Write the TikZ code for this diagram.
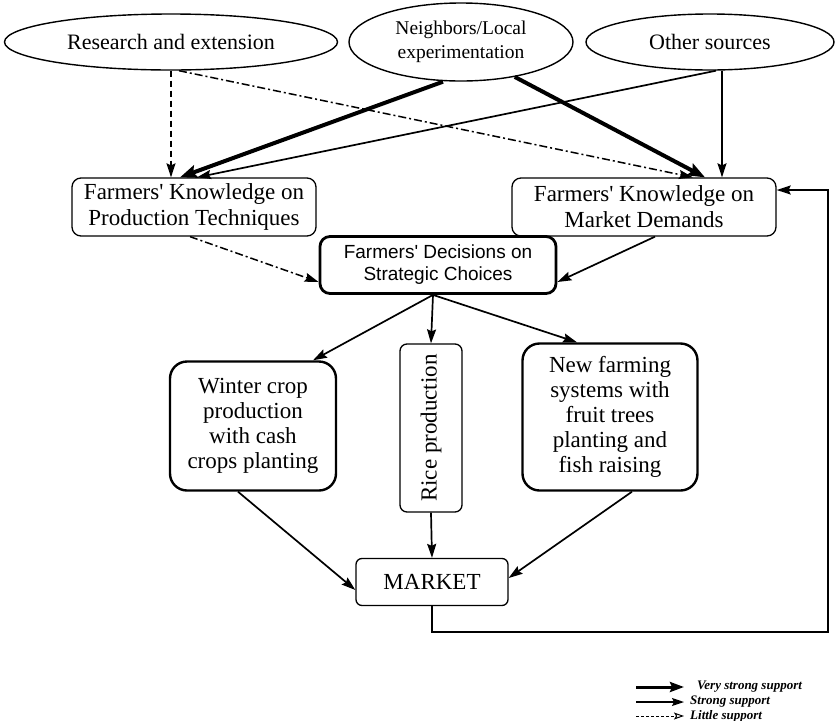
\documentclass[tikz,border=0pt]{standalone}
\usepackage{fontspec}
\setmainfont{Liberation Serif}
\newfontfamily\arialfont{Liberation Sans}
\usetikzlibrary{arrows.meta,shapes.geometric,calc}

\tikzset{
  srcnode/.style={ellipse, draw, line width=1.4pt, inner sep=0pt, align=center,
    font=\fontsize{22}{25}\selectfont},
  knowbox/.style={rectangle, draw, rounded corners=9pt, line width=1.3pt, align=center,
    inner sep=0pt, font=\fontsize{23}{26}\selectfont},
  decbox/.style={rectangle, draw, rounded corners=10pt, line width=2.8pt, align=center,
    inner sep=0pt, font=\arialfont\fontsize{19}{22}\selectfont},
  cropbox/.style={rectangle, draw, rounded corners=17pt, line width=2.4pt, align=center,
    inner sep=0pt, font=\fontsize{23}{25}\selectfont},
  thinbox/.style={rectangle, draw, rounded corners=7pt, line width=1.3pt, align=center,
    inner sep=0pt, font=\fontsize{23}{26}\selectfont},
  legendtext/.style={anchor=west, inner sep=0pt, font=\fontsize{13}{15}\selectfont\bfseries\itshape},
  vstrong/.style={line width=4pt, -{Stealth[length=17pt,width=13pt,inset=3pt]}},
  strong/.style={line width=1.7pt, -{Stealth[length=14pt,width=9pt,inset=2pt]}},
  weak/.style={line width=1.5pt, dash pattern=on 6pt off 4pt, -{Stealth[length=14pt,width=9pt,inset=2pt]}},
  weakdot/.style={line width=1.5pt, dash pattern=on 8pt off 3pt on 2pt off 3pt, -{Stealth[length=14pt,width=9pt,inset=2pt]}},
}

\begin{document}
\begin{tikzpicture}[x=1pt,y=-1pt]
\useasboundingbox (0,0) rectangle (839,721);

% knowledge sources
\node[srcnode, minimum width=333pt, minimum height=56pt] (research) at (171,42) {Research and extension};
\node[srcnode, minimum width=224pt, minimum height=78pt, font=\fontsize{19.5}{24}\selectfont] (neigh) at (461,42) {Neighbors/Local\\experimentation};
\node[srcnode, minimum width=248pt, minimum height=56pt] (other) at (710,42) {Other sources};

% farmers' knowledge
\node[knowbox, minimum width=244pt, minimum height=58pt] (prod) at (194,207) {Farmers\textquotesingle\ Knowledge on\\Production Techniques};
\node[knowbox, minimum width=264pt, minimum height=58pt] (mdem) at (644,207) {Farmers\textquotesingle\ Knowledge on\\Market Demands};

% decisions
\node[decbox, minimum width=236pt, minimum height=57pt] (dec) at (438,265) {Farmers\textquotesingle\ Decisions on\\Strategic Choices};

% strategic choices
\node[cropbox, minimum width=166pt, minimum height=129pt] (winter) at (253,426) {Winter crop\\production\\with cash\\crops planting};
\node[thinbox, rotate=90, minimum width=168pt, minimum height=62pt] (rice) at (431,428) {Rice production};
\node[cropbox, minimum width=175pt, minimum height=147pt] (newfarm) at (610,417) {New farming\\systems with\\fruit trees\\planting and\\fish raising};

% market
\node[thinbox, rounded corners=6pt, minimum width=152pt, minimum height=47pt] (market) at (432,582) {MARKET};

% sources -> knowledge
\draw[weak] (research.south) -- (research.south |- prod.north);
\draw[weakdot] ([xshift=8pt]research.south) -- ([xshift=49pt]mdem.north);
\draw[vstrong] ([xshift=-18pt]neigh.south) -- ([xshift=-14pt]prod.north);
\draw[vstrong] (neigh.-33) -- ([xshift=61pt]mdem.north);
\draw[strong] ([xshift=6pt]other.south) -- ([xshift=3pt]prod.north);
\draw[strong] ([xshift=12pt]other.south) -- ([xshift=78pt]mdem.north);

% knowledge -> decisions
\draw[weakdot] ([xshift=-4pt]prod.south) -- ([yshift=-17pt]dec.west);
\draw[strong] ([xshift=11pt]mdem.south) -- ([yshift=-17pt]dec.east);

% decisions -> choices
\draw[strong] ([xshift=-5pt]dec.south) -- ([xshift=60pt]winter.north);
\draw[strong] ([xshift=-5pt]dec.south) -- (rice.east);
\draw[strong] ([xshift=-5pt]dec.south) -- ([xshift=-33pt]newfarm.north);

% choices -> market
\draw[strong] ([xshift=-15pt]winter.south) -- ([yshift=-8pt]market.west);
\draw[strong] (rice.west) -- (market.north);
\draw[strong] ([xshift=22pt]newfarm.south) -- ([yshift=4pt]market.east);

% feedback from market to market knowledge
\coordinate (fbcorner) at (828,632);
\draw[strong] (market.south) |- (fbcorner) |- ([yshift=17pt]mdem.east);

% legend
\coordinate (l1a) at (636,687); \coordinate (l1b) at (684,687);
\coordinate (l2a) at (636,702); \coordinate (l2b) at (684,702);
\coordinate (l3a) at (636,716); \coordinate (l3b) at (684,716);
\draw[line width=3pt, -{Stealth[length=14pt,width=10pt,inset=2pt]}] (l1a) -- (l1b);
\draw[line width=1.5pt, -{Stealth[length=12pt,width=8pt,inset=2pt]}] (l2a) -- (l2b);
\draw[line width=1pt, dash pattern=on 3pt off 2pt, -{Stealth[length=10pt,width=7pt,inset=2pt,open]}] (l3a) -- (l3b);
\node[legendtext] (lt1) at (697,687) {Very strong support};
\node[legendtext] (lt2) at (690,702) {Strong support};
\node[legendtext] (lt3) at (690,716) {Little support};
\end{tikzpicture}
\end{document}
